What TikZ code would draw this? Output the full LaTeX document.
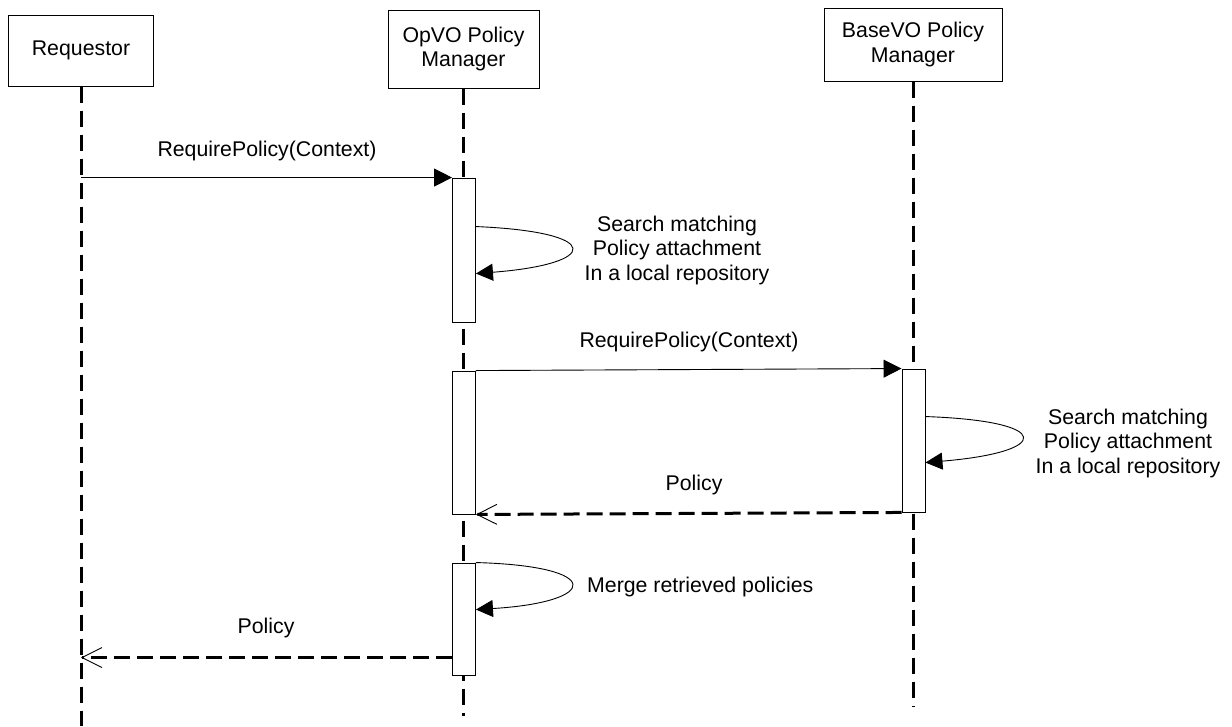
\documentclass[tikz,border=0pt]{standalone}
\usepackage{fontspec}
\setmainfont{Liberation Sans}
\usetikzlibrary{arrows.meta,calc}
\begin{document}
\begin{tikzpicture}[x=1pt,y=-1pt,
  every node/.style={font=\fontsize{21.3}{24.5}\selectfont},
  actor/.style={draw,line width=1pt,fill=white,align=center,inner sep=0pt},
  bar/.style={draw,line width=0.9pt,fill=white,minimum width=23,inner sep=0pt},
  lifeline/.style={line width=3pt,dash pattern=on 16pt off 8pt},
  call/.style={line width=0.9pt,-{Triangle[length=18pt,width=18pt]}},
  selfcall/.style={line width=0.9pt,-{Triangle[length=17pt,width=17pt]}},
  reply/.style={line width=3pt,dash pattern=on 16pt off 7pt,
    -{Straight Barb[length=20pt,width=20pt,line width=0.9pt]}},
  lbl/.style={inner sep=0pt,align=center}]
\useasboundingbox (0,0) rectangle (1232,726);

% participants
\node[actor,minimum width=145,minimum height=71] (req) at (81,50.5) {Requestor};
\node[actor,minimum width=151,minimum height=78] (opvo) at (463.5,49) {OpVO Policy\\Manager};
\node[actor,minimum width=178,minimum height=73] (basevo) at (913,44.5) {BaseVO Policy\\Manager};

% lifeline ends
\coordinate (reqend) at (81,726);
\coordinate (opvoend) at (463.5,716);
\coordinate (basevoend) at (913,707);

\draw[lifeline] (req.south) -- (reqend);
\draw[lifeline] (opvo.south) -- (opvoend);
\draw[lifeline] (basevo.south) -- (basevoend);

% activation bars
\node[bar,minimum height=144] (a1) at (464,250) {};
\node[bar,minimum height=143] (a2) at (464,442.5) {};
\node[bar,minimum height=112] (a3) at (464,619) {};
\node[bar,minimum height=143] (b1) at (913.5,440.5) {};

% RequirePolicy from the requestor
\draw[call] (a1.north west -| req) -- (a1.north west);
\node[lbl] (m1) at (267,151) {RequirePolicy(Context)};

% local search in OpVO
\draw[selfcall] ($(a1.north east)+(0,49)$)
  .. controls (605,232) and (600,264) .. ($(a1.north east)+(0,96)$);
\node[lbl] (s1) at (677,250) {Search matching\\Policy attachment\\In a local repository};

% RequirePolicy forwarded to BaseVO
\draw[call] (a2.north east) -- (b1.north west);
\node[lbl] (m2) at (689,342) {RequirePolicy(Context)};

% local search in BaseVO
\draw[selfcall] ($(b1.north east)+(0,48)$)
  .. controls (1055,421) and (1052,452) .. ($(b1.north east)+(0,94)$);
\node[lbl] (s2) at (1128,443) {Search matching\\Policy attachment\\In a local repository};

% Policy returned by BaseVO
\draw[reply] (b1.south west) -- (a2.south east);
\node[lbl] (r1) at (694,485) {Policy};

% merging
\draw[selfcall] (a3.north east)
  .. controls (605,566) and (600,602) .. ($(a3.north east)+(0,47)$);
\node[lbl,anchor=west] (s3) at (587,587) {Merge retrieved policies};

% Policy returned to the requestor
\coordinate (r2start) at ($(a3.north west)+(0,95)$);
\draw[reply] (r2start) -- (r2start -| req);
\node[lbl] (r2) at (266,628) {Policy};
\end{tikzpicture}
\end{document}
